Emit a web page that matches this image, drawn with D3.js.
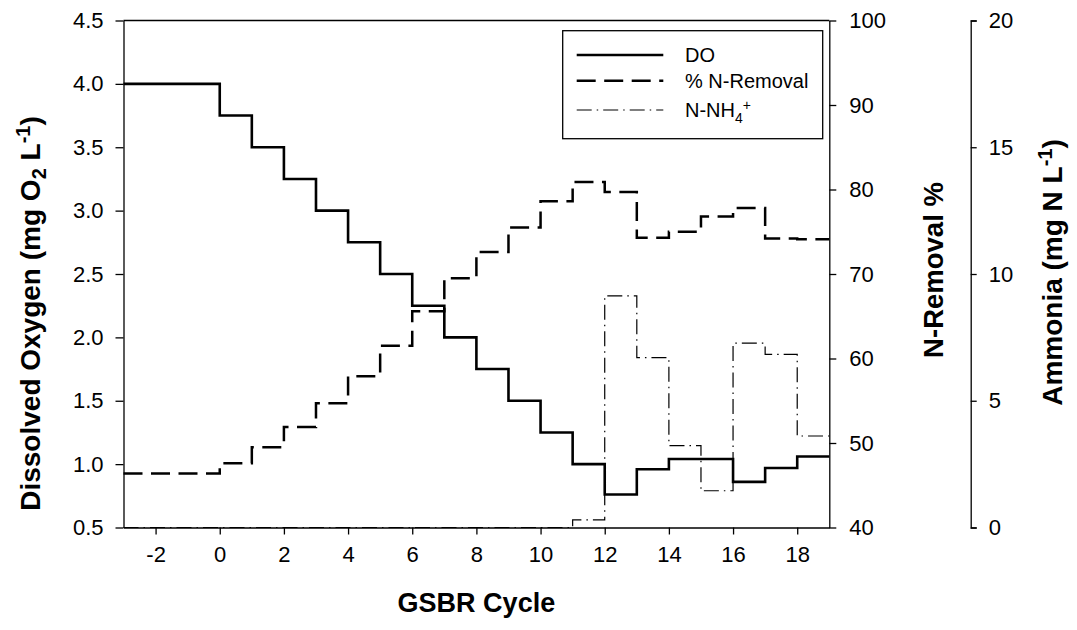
<!DOCTYPE html>
<html>
<head>
<meta charset="utf-8">
<script src="https://cdn.jsdelivr.net/npm/d3@7"></script>
<style>
  html, body { margin: 0; padding: 0; background: #fff; }
  svg { display: block; }
  text { font-family: "Liberation Sans", Arial, sans-serif; fill: #000; }
</style>
</head>
<body>
<svg id="chart" width="1077" height="630"></svg>
<script>
// ---- data ----
const cycles = [-3,-2,-1,0,1,2,3,4,5,6,7,8,9,10,11,12,13,14,15,16,17,18];
const doValues = [4.0,4.0,4.0,3.75,3.5,3.25,3.0,2.75,2.5,2.25,2.0,1.75,1.5,1.25,1.0,0.76,0.96,1.04,1.04,0.86,0.97,1.06];
const nRemoval = [46.4,46.4,46.4,47.6,49.5,51.9,54.7,57.9,61.5,65.6,69.5,72.6,75.5,78.6,80.9,79.7,74.3,75.0,76.8,77.8,74.2,74.1];
const ammonia = [0,0,0,0,0,0,0,0,0,0,0,0,0,0,0.3,9.14,6.70,3.23,1.45,7.27,6.83,3.61];
const xTicks = [-2,0,2,4,6,8,10,12,14,16,18];
const doTicks = [0.5,1.0,1.5,2.0,2.5,3.0,3.5,4.0,4.5];
const nrTicks = [40,50,60,70,80,90,100];
const nhTicks = [0,5,10,15,20];
const legendLabels = ["DO", "% N-Removal", "N-NH"];

// ---- layout ----
const L = 123.5, R = 829.3, T = 20.5, B = 527.5;
const svg = d3.select("#chart");

const x = d3.scaleLinear().domain([-3, 19]).range([L, R]);
const yDO = d3.scaleLinear().domain([0.5, 4.5]).range([B, T]);
const yNR = d3.scaleLinear().domain([40, 100]).range([B, T]);
const yNH = d3.scaleLinear().domain([0, 20]).range([B, T]);

function stepData(vals) {
  const pts = cycles.map((c, i) => [c, vals[i]]);
  pts.push([cycles[cycles.length - 1] + 1, vals[vals.length - 1]]);
  return pts;
}

// frame
svg.append("line").attr("x1", L).attr("x2", R).attr("y1", T).attr("y2", T)
  .attr("stroke", "#000").attr("stroke-width", 1.3);

// series
const mk = (ys) => d3.line().x(d => x(d[0])).y(d => ys(d[1])).curve(d3.curveStepAfter);

svg.append("path").attr("d", mk(yNH)(stepData(ammonia)))
  .attr("fill", "none").attr("stroke", "#000").attr("stroke-width", 1.2)
  .attr("stroke-dasharray", "15,5,1.5,5");
svg.append("path").attr("d", mk(yNR)(stepData(nRemoval)))
  .attr("fill", "none").attr("stroke", "#000").attr("stroke-width", 2.5)
  .attr("stroke-dasharray", "19,8.5");
svg.append("path").attr("d", mk(yDO)(stepData(doValues)))
  .attr("fill", "none").attr("stroke", "#000").attr("stroke-width", 2.6);

// axes
function styleAxis(g, fs) {
  g.selectAll("path.domain").attr("stroke", "#000").attr("stroke-width", 1.3);
  g.selectAll(".tick line").attr("stroke", "#000").attr("stroke-width", 1.3);
  g.selectAll(".tick text").attr("font-size", fs).attr("font-family", "Liberation Sans, Arial, sans-serif");
}
const gx = svg.append("g").attr("transform", `translate(0,${B})`)
  .call(d3.axisBottom(x).tickValues(xTicks).tickSize(7).tickPadding(12).tickSizeOuter(0).tickFormat(d3.format("d")));
styleAxis(gx, 22);
gx.selectAll(".tick text").text(d => d < 0 ? "-" + Math.abs(d) : d);

const gl = svg.append("g").attr("transform", `translate(${L},0)`)
  .call(d3.axisLeft(yDO).tickValues(doTicks).tickSize(8).tickPadding(12).tickSizeOuter(0).tickFormat(d3.format(".1f")));
styleAxis(gl, 22);

const gr = svg.append("g").attr("transform", `translate(${R},0)`)
  .call(d3.axisRight(yNR).tickValues(nrTicks).tickSize(7).tickPadding(13).tickSizeOuter(0).tickFormat(d3.format("d")));
styleAxis(gr, 22);

const gn = svg.append("g").attr("transform", `translate(970.7,0)`)
  .call(d3.axisRight(yNH).tickValues(nhTicks).tickSize(6).tickPadding(12).tickSizeOuter(6).tickFormat(d3.format("d")));
styleAxis(gn, 22);

// axis titles
svg.append("text").attr("x", (L + R) / 2).attr("y", 612).attr("text-anchor", "middle")
  .attr("font-size", 27).attr("font-weight", "bold").text("GSBR Cycle");

const t1 = svg.append("text").attr("transform", "translate(40,313.5) rotate(-90)")
  .attr("text-anchor", "middle").attr("font-size", 28).attr("font-weight", "bold");
t1.append("tspan").text("Dissolved Oxygen (mg O");
t1.append("tspan").attr("font-size", 20).attr("dy", 6).text("2");
t1.append("tspan").attr("dy", -6).text(" L");
t1.append("tspan").attr("font-size", 20).attr("dy", -10).text("-1");
t1.append("tspan").attr("dy", 10).text(")");

svg.append("text").attr("transform", "translate(943,270) rotate(-90)")
  .attr("text-anchor", "middle").attr("font-size", 27.5).attr("font-weight", "bold").text("N-Removal %");

const t3 = svg.append("text").attr("transform", "translate(1062,272.5) rotate(-90)")
  .attr("text-anchor", "middle").attr("font-size", 28).attr("font-weight", "bold");
t3.append("tspan").text("Ammonia (mg N L");
t3.append("tspan").attr("font-size", 20).attr("dy", -10).text("-1");
t3.append("tspan").attr("dy", 10).text(")");

// legend
const lg = svg.append("g");
lg.append("rect").attr("x", 562.7).attr("y", 30.7).attr("width", 260).attr("height", 108)
  .attr("fill", "#fff").attr("stroke", "#000").attr("stroke-width", 1.3);
const rows = [55, 80.7, 110];
const styles = [
  {w: 2.6, dash: null},
  {w: 2.5, dash: "19,8.5"},
  {w: 1.2, dash: "15,5,1.5,5"}
];
rows.forEach((ry, i) => {
  const l = lg.append("line").attr("x1", 576.7).attr("x2", 663.3).attr("y1", ry).attr("y2", ry)
    .attr("stroke", "#000").attr("stroke-width", styles[i].w);
  if (styles[i].dash) l.attr("stroke-dasharray", styles[i].dash);
  const t = lg.append("text").attr("x", 685).attr("y", ry).attr("dy", "0.36em").attr("font-size", 20)
    .text(legendLabels[i]);
  if (i === 2) {
    t.append("tspan").attr("font-size", 14).attr("dy", 6).text("4");
    t.append("tspan").attr("font-size", 14).attr("dy", -13).text("+");
  }
});
</script>
</body>
</html>
